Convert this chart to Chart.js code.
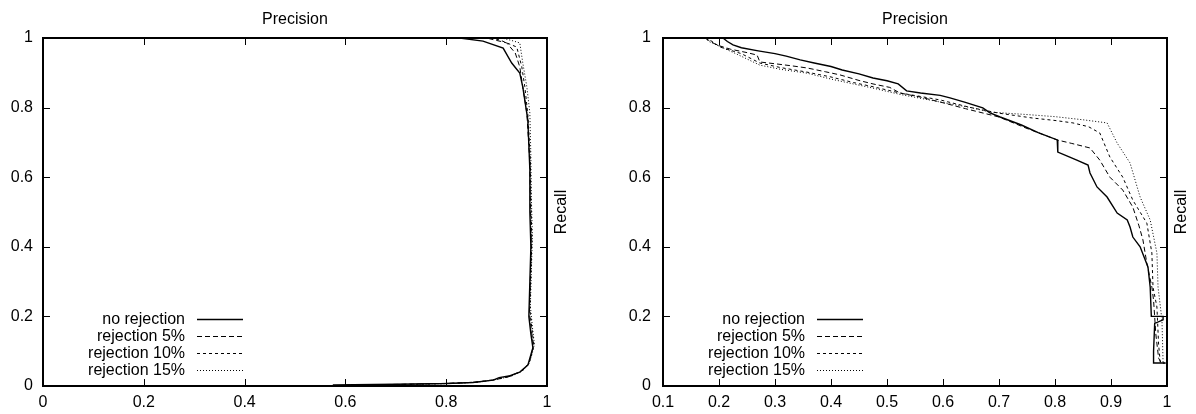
<!DOCTYPE html>
<html lang="en">
  <head>
    <meta charset="UTF-8" />
    <title>Precision / Recall</title>
    <style>
      body { margin: 0; background: #fff; }
      .wrap { position: relative; width: 1196px; height: 414px; }
      canvas { position: absolute; top: 0; }
    </style>
  </head>
  <body>
    <div class="wrap">
      <canvas id="left" width="598" height="414" style="left:0"></canvas>
      <canvas id="right" width="598" height="414" style="left:598px"></canvas>
    </div>
    <script src="https://cdn.jsdelivr.net/npm/chart.js"></script>
    <script>
      // series labels
      const seriesNames = ["no rejection", "rejection 5%", "rejection 10%", "rejection 15%"];

      // left plot: [precision, recall]
      const leftNone = [[0.575,0.003],[0.70,0.005],[0.80,0.007],[0.853,0.010],[0.893,0.017],[0.905,0.024],[0.93,0.030],[0.92,0.026],[0.946,0.040],[0.962,0.060],[0.966,0.080],[0.972,0.110],[0.968,0.150],[0.964,0.200],[0.966,0.300],[0.968,0.400],[0.966,0.500],[0.966,0.620],[0.962,0.764],[0.952,0.859],[0.946,0.899],[0.930,0.928],[0.913,0.971],[0.873,0.991],[0.827,1.0]];
      const left5 = [[0.60,0.003],[0.72,0.005],[0.81,0.008],[0.86,0.011],[0.897,0.018],[0.925,0.028],[0.948,0.042],[0.963,0.062],[0.968,0.085],[0.973,0.115],[0.969,0.160],[0.965,0.210],[0.967,0.310],[0.969,0.410],[0.967,0.520],[0.966,0.640],[0.960,0.784],[0.952,0.859],[0.946,0.917],[0.937,0.957],[0.920,0.986],[0.880,1.0]];
      const left10 = [[0.62,0.003],[0.74,0.005],[0.82,0.008],[0.865,0.012],[0.90,0.019],[0.928,0.029],[0.95,0.043],[0.964,0.064],[0.969,0.088],[0.974,0.118],[0.970,0.165],[0.966,0.220],[0.968,0.320],[0.970,0.420],[0.968,0.530],[0.967,0.650],[0.962,0.780],[0.956,0.860],[0.950,0.917],[0.940,0.974],[0.907,0.994],[0.890,1.0]];
      const left15 = [[0.64,0.003],[0.76,0.005],[0.83,0.008],[0.87,0.012],[0.905,0.020],[0.932,0.030],[0.952,0.044],[0.965,0.066],[0.970,0.090],[0.975,0.120],[0.971,0.170],[0.967,0.230],[0.969,0.330],[0.971,0.430],[0.969,0.540],[0.968,0.660],[0.966,0.784],[0.960,0.860],[0.952,0.928],[0.946,0.986],[0.927,0.994],[0.910,1.0]];

      // right plot: [precision, recall]
      const rightNone = [[0.207,1.0],[0.215,0.99],[0.225,0.98],[0.24,0.972],[0.27,0.963],[0.30,0.955],[0.32,0.948],[0.345,0.937],[0.37,0.928],[0.40,0.918],[0.42,0.908],[0.45,0.897],[0.475,0.885],[0.50,0.877],[0.52,0.868],[0.535,0.848],[0.56,0.842],[0.595,0.835],[0.6125,0.828],[0.64,0.815],[0.671,0.799],[0.684,0.785],[0.702,0.773],[0.74,0.75],[0.77,0.728],[0.804,0.707],[0.805,0.672],[0.82,0.662],[0.839,0.649],[0.859,0.635],[0.8625,0.612],[0.875,0.572],[0.893,0.543],[0.911,0.497],[0.929,0.477],[0.934,0.457],[0.939,0.428],[0.952,0.40],[0.966,0.342],[0.970,0.284],[0.972,0.20],[0.993,0.20],[0.993,0.19],[0.978,0.18],[0.976,0.10],[0.976,0.066],[0.995,0.066]];
      const right5 = [[0.175,1.0],[0.185,0.99],[0.196,0.98],[0.22,0.968],[0.25,0.958],[0.268,0.951],[0.273,0.931],[0.30,0.926],[0.33,0.92],[0.357,0.914],[0.39,0.903],[0.416,0.894],[0.45,0.878],[0.475,0.868],[0.505,0.858],[0.523,0.842],[0.56,0.83],[0.595,0.816],[0.64,0.797],[0.70,0.773],[0.75,0.74],[0.804,0.707],[0.83,0.697],[0.8625,0.684],[0.88,0.649],[0.898,0.60],[0.921,0.563],[0.939,0.514],[0.95,0.46],[0.957,0.42],[0.964,0.353],[0.973,0.284],[0.976,0.247],[0.98,0.15],[0.985,0.08],[0.99,0.066],[0.997,0.066]];
      const right10 = [[0.175,1.0],[0.188,0.99],[0.202,0.974],[0.24,0.955],[0.273,0.928],[0.31,0.915],[0.357,0.902],[0.40,0.888],[0.44,0.872],[0.475,0.86],[0.523,0.842],[0.56,0.832],[0.595,0.822],[0.65,0.80],[0.70,0.784],[0.76,0.77],[0.80,0.763],[0.832,0.756],[0.86,0.745],[0.88,0.727],[0.898,0.658],[0.921,0.60],[0.939,0.534],[0.964,0.468],[0.973,0.382],[0.975,0.284],[0.982,0.227],[0.985,0.12],[0.988,0.066],[0.998,0.066]];
      const right15 = [[0.175,1.0],[0.182,0.99],[0.189,0.985],[0.23,0.955],[0.273,0.922],[0.31,0.91],[0.357,0.899],[0.40,0.882],[0.44,0.868],[0.475,0.856],[0.523,0.838],[0.595,0.816],[0.65,0.80],[0.684,0.787],[0.75,0.78],[0.80,0.774],[0.85,0.765],[0.893,0.756],[0.911,0.698],[0.934,0.641],[0.952,0.543],[0.970,0.477],[0.982,0.382],[0.984,0.284],[0.991,0.19],[0.993,0.066],[1.0,0.066]];

      const dashes = [[], [5, 3], [3, 3], [1, 2]];
      const widths = [1.4, 1, 1, 1];
      const FONT = '16px "Liberation Sans", Arial, sans-serif';

      // frame, inward ticks, titles and key drawn gnuplot-style
      const gnuFrame = {
        id: "gnuFrame",
        afterDraw(chart) {
          const { ctx, chartArea: a, scales } = chart;
          ctx.save();
          ctx.strokeStyle = "#000";
          ctx.lineWidth = 1;
          ctx.beginPath();
          scales.x.ticks.forEach((t) => {
            const px = Math.round(scales.x.getPixelForValue(t.value)) + 0.5;
            ctx.moveTo(px, a.bottom); ctx.lineTo(px, a.bottom - 7);
            ctx.moveTo(px, a.top); ctx.lineTo(px, a.top + 7);
          });
          scales.y.ticks.forEach((t) => {
            const py = Math.round(scales.y.getPixelForValue(t.value)) + 0.5;
            ctx.moveTo(a.left, py); ctx.lineTo(a.left + 7, py);
            ctx.moveTo(a.right, py); ctx.lineTo(a.right - 7, py);
          });
          ctx.stroke();
          ctx.lineWidth = 2;
          ctx.strokeRect(a.left, a.top, a.right - a.left, a.bottom - a.top);

          ctx.fillStyle = "#000";
          ctx.font = FONT;
          ctx.textAlign = "center";
          ctx.textBaseline = "middle";
          ctx.fillText("Precision", (a.left + a.right) / 2, 20);
          ctx.save();
          ctx.translate(a.right + 15, (a.top + a.bottom) / 2);
          ctx.rotate(-Math.PI / 2);
          ctx.fillText("Recall", 0, 0);
          ctx.restore();

          // key
          chart.data.datasets.forEach((ds, i) => {
            const y = a.bottom - 67 + i * 17;
            ctx.textAlign = "right";
            ctx.fillText(ds.label, a.left + 142, y + 1);
            ctx.lineWidth = ds.borderWidth;
            ctx.setLineDash(ds.borderDash);
            ctx.beginPath();
            ctx.moveTo(a.left + 154, y + 0.5);
            ctx.lineTo(a.left + 200, y + 0.5);
            ctx.stroke();
            ctx.setLineDash([]);
          });
          ctx.restore();
        },
      };

      function makeChart(id, series, xMin, xStep, yWidth, padRight) {
        return new Chart(document.getElementById(id), {
          type: "scatter",
          data: {
            datasets: series.map((pts, i) => ({
              label: seriesNames[i],
              data: pts.map(([x, y]) => ({ x, y })),
              showLine: true,
              borderColor: "#000",
              borderWidth: widths[i],
              borderDash: dashes[i],
              pointRadius: 0,
              tension: 0,
              fill: false,
            })),
          },
          options: {
            responsive: false,
            animation: false,
            layout: { padding: { top: 38, right: padRight, left: 0, bottom: 0 } },
            plugins: { legend: { display: false }, tooltip: { enabled: false } },
            scales: {
              x: {
                type: "linear",
                min: xMin,
                max: 1,
                grid: { display: false, drawTicks: false },
                border: { display: false },
                ticks: {
                  stepSize: xStep,
                  autoSkip: false,
                  maxRotation: 0,
                  padding: 7,
                  color: "#000",
                  font: { family: '"Liberation Sans", Arial, sans-serif', size: 16 },
                  callback: (v) => String(Number(v.toFixed(1))),
                },
                afterFit: (s) => { s.height = 28; },
              },
              y: {
                type: "linear",
                min: 0,
                max: 1,
                grid: { display: false, drawTicks: false },
                border: { display: false },
                ticks: {
                  stepSize: 0.2,
                  padding: yWidth === 43 ? 10 : 12,
                  color: "#000",
                  font: { family: '"Liberation Sans", Arial, sans-serif', size: 16 },
                  callback: (v) => String(Number(v.toFixed(1))),
                },
                afterFit: (s) => { s.width = yWidth; },
              },
            },
          },
          plugins: [gnuFrame],
        });
      }

      makeChart("left", [leftNone, left5, left10, left15], 0, 0.2, 43, 51);
      makeChart("right", [rightNone, right5, right10, right15], 0.1, 0.1, 65, 29);
    </script>
  </body>
</html>
